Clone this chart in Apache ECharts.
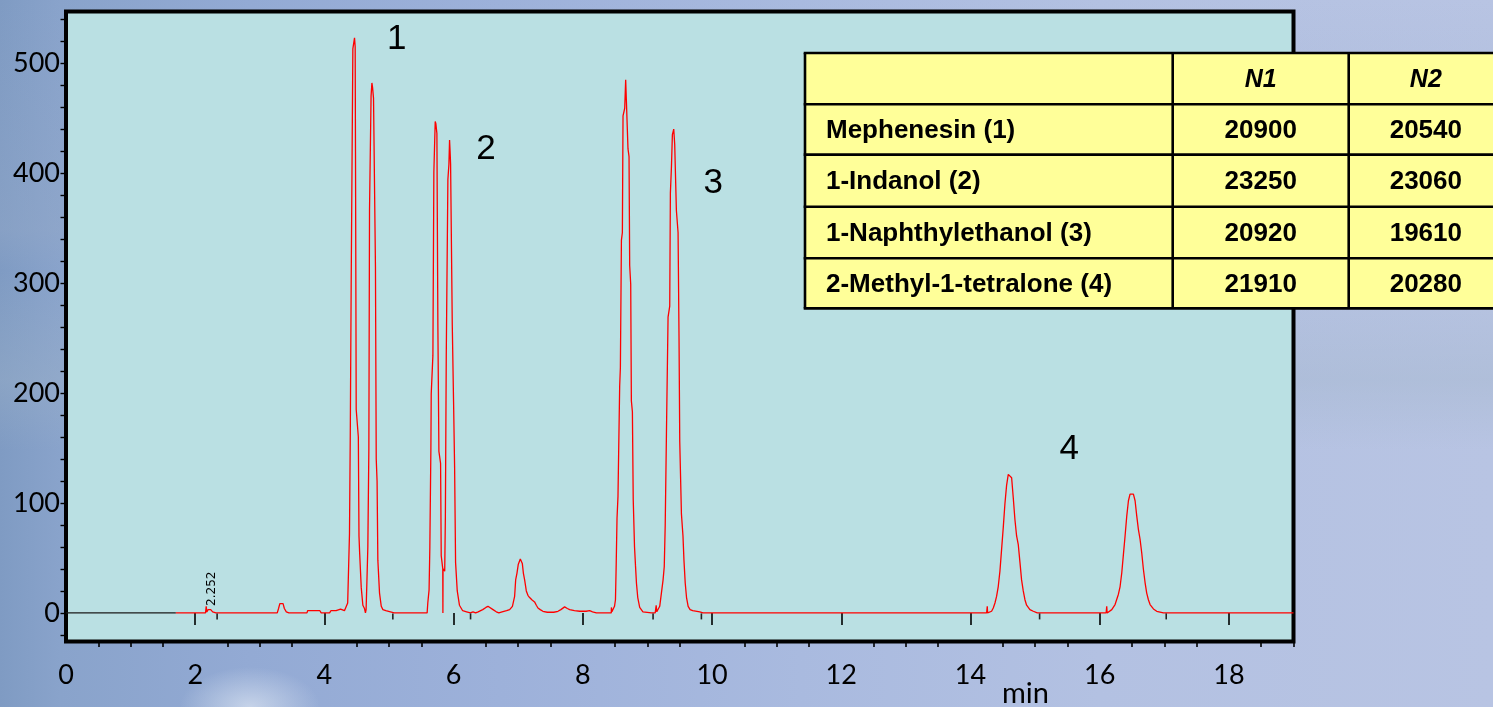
<!DOCTYPE html>
<html>
<head>
<meta charset="utf-8">
<script src="https://cdn.jsdelivr.net/npm/echarts@6/dist/echarts.min.js"></script>
<style>
html,body{margin:0;padding:0;width:1493px;height:707px;overflow:hidden;}
body{
  background:
    radial-gradient(ellipse 70px 40px at 250px 707px, rgba(215,225,240,0.75), rgba(215,225,240,0) 100%),
    linear-gradient(to bottom, rgba(120,150,190,0.0) 0px, rgba(150,170,200,0.35) 230px, rgba(120,150,190,0.0) 270px, rgba(160,180,200,0.35) 380px, rgba(120,150,200,0.0) 450px),
    linear-gradient(to right, #7F9BC3 0px, #89A3CB 60px, #93AAD4 250px, #9DB1DA 500px, #A9BADF 800px, #B3C1E2 1100px, #B8C4E3 1493px);
}
#chart{width:1493px;height:707px;}
</style>
</head>
<body>
<div id="chart"></div>
<script>
// ---------------- data ----------------
// detector trace before the red recording starts (min, mAU)
const preRun = [[0, 0], [1.70, 0]];

// early baseline with small bumps
const earlyTrace = [
  [1.70,0],[2.16,0],[2.17,6],[2.18,1],[2.20,3],[2.24,3],[2.27,1],[2.32,0],
  [3.04,0],[3.06,1.5],[3.09,0],[3.27,0],[3.29,4],[3.31,8.5],[3.36,8.5],[3.38,4],[3.41,1],[3.45,0],
  [3.73,0],[3.74,2],[3.93,2],[3.95,0],[4.08,0],[4.10,2],[4.18,2],[4.20,3.5],[4.25,3.5],[4.27,2],[4.31,2]
];

// peak pair 1 (Mephenesin)
const group1 = [
  [4.33,2],[4.34,3],[4.36,9],[4.388,72],[4.40,160],[4.414,297],[4.44,513],[4.466,523],[4.476,515],
  [4.481,419],[4.492,185],[4.525,160],[4.535,70],[4.545,55],[4.57,23],[4.595,7],[4.62,4],[4.635,0],
  [4.645,3],[4.657,27],[4.672,60],[4.688,150],[4.698,366],[4.722,470],[4.735,482],[4.745,478],[4.760,468],
  [4.775,391],[4.790,314],[4.802,140],[4.815,120],[4.827,48],[4.853,18],[4.88,6],[4.905,3],[4.95,2],[5.08,0]
];

// peak pair 2 (1-Indanol)
const group2 = [
  [5.59,0],[5.60,9],[5.62,21],[5.632,60],[5.648,150],[5.653,199],[5.679,234],[5.694,401],[5.715,447],
  [5.725,445],[5.741,436],[5.756,262],[5.772,147],[5.798,136],[5.808,52],[5.832,40],[5.834,0],[5.836,40],
  [5.862,38],[5.872,87],[5.886,234],[5.911,394],[5.927,408],[5.937,430],[5.945,420],[5.953,408],[5.979,262],
  [5.999,192],[6.015,133],[6.03,46],[6.056,20],[6.09,7],[6.14,2],[6.2,1],[6.26,0]
];

// small peaks between pair 2 and pair 3
const midTrace = [
  [6.30,1],[6.34,0],[6.38,1],[6.45,3],[6.50,5],[6.531,6],[6.56,5],[6.61,3],[6.66,1],[6.70,0],[6.75,1],
  [6.82,2],[6.867,3],[6.91,6],[6.944,15],[6.96,30],[6.98,36],[7.00,44],[7.032,49],[7.045,48],[7.063,45],
  [7.08,36],[7.099,30],[7.125,20],[7.15,16],[7.176,14],[7.21,12],[7.253,10],[7.28,7],[7.305,4.5],[7.34,3],
  [7.382,1.5],[7.45,0.6],[7.55,0.6],[7.615,1.5],[7.66,3],[7.718,5.5],[7.76,4],[7.796,3],[7.87,2],[7.951,1.5],
  [8.05,1.5],[8.106,2],[8.15,1],[8.209,0],[8.44,0]
];

// peak pair 3 (1-Naphthylethanol)
const group3 = [
  [8.442,5],[8.45,1],[8.49,6],[8.505,12],[8.515,40],[8.529,86],[8.544,106],[8.57,206],[8.581,223],
  [8.597,339],[8.612,346],[8.622,452],[8.648,459],[8.663,485],[8.684,484],[8.699,422],[8.715,415],
  [8.725,316],[8.741,299],[8.751,193],[8.767,183],[8.78,103],[8.80,60],[8.815,43],[8.83,27],[8.85,14],
  [8.88,5],[8.93,1],[9.06,0],[9.12,0],[9.135,7],[9.145,1],[9.165,2],[9.19,6],[9.216,18],[9.242,30],
  [9.26,42],[9.275,80],[9.294,163],[9.319,269],[9.345,279],[9.355,382],[9.371,405],[9.386,435],[9.407,440],
  [9.422,426],[9.448,366],[9.474,346],[9.489,249],[9.50,156],[9.526,90],[9.55,70],[9.565,48],[9.585,27],
  [9.605,14],[9.63,6],[9.66,3],[9.70,2],[9.81,1],[9.86,0]
];

// peak pair 4 (2-Methyl-1-tetralone)
const group4 = [
  [14.25,0],[14.26,6],[14.265,0],[14.275,0.6],[14.327,1.5],[14.353,4.5],[14.379,9],[14.404,15],[14.43,24],
  [14.456,38],[14.482,58],[14.508,78],[14.533,99],[14.559,116],[14.585,126],[14.611,127],[14.637,123],
  [14.662,105],[14.688,85],[14.714,70],[14.74,62],[14.766,46],[14.791,30],[14.817,20],[14.843,12],
  [14.869,7],[14.92,3],[14.972,1.5],[15.034,0],
  [16.10,0],[16.109,6],[16.115,0],[16.135,0.6],[16.187,3],[16.238,7.6],[16.29,17],[16.316,24],[16.342,36.5],
  [16.367,53],[16.393,70],[16.419,88],[16.445,102],[16.47,108],[16.496,109.5],[16.522,108],[16.548,102],
  [16.574,88],[16.599,76],[16.625,67],[16.651,54.5],[16.677,39.5],[16.703,27.4],[16.728,18],[16.754,12],
  [16.78,7.6],[16.832,3.6],[16.883,1.5],[16.986,0],[19,0]
];

// integration baseline marks (min)
const integrationMarks = [2.339, 5.059, 6.262, 9.087, 9.835, 15.07, 17.03];

// retention time annotation
const rtLabels = [[2.252, 0, '2.252']];

// peak group numbers (min, mAU, text)
const peakNumbers = [[5.12, 522, '1'], [6.50, 422, '2'], [10.02, 391, '3'], [15.53, 149, '4']];

// tick labels
const xMajorTicks = [0, 2, 4, 6, 8, 10, 12, 14, 16, 18];
const xMinorTicks = [];
for (let i = 1; i <= 38; i++) { if (i % 4 !== 0) xMinorTicks.push(i * 0.5); }
const yLabelValues = [0, 100, 200, 300, 400, 500];
const yTickValues = [];
for (let v = -20; v <= 540; v += 20) yTickValues.push(v);

// table
const tableHeader = ['', 'N1', 'N2'];
const tableNames = ['Mephenesin (1)', '1-Indanol (2)', '1-Naphthylethanol (3)', '2-Methyl-1-tetralone (4)'];
const tableN1 = [20900, 23250, 20920, 21910];
const tableN2 = [20540, 23060, 19610, 20280];

// ---------------- chart ----------------
const trace = [].concat(earlyTrace, group1, group2, midTrace, group3, group4);

const labelFont = 'Lato, "Open Sans", sans-serif';

// table graphics
const colX = [805, 1172.7, 1348.7, 1503];
const rowY = [53, 104.3, 154.6, 206.7, 258.3, 308.4];
const tableEls = [];
tableEls.push({type:'rect', shape:{x:colX[0], y:rowY[0], width:colX[3]-colX[0], height:rowY[5]-rowY[0]},
  style:{fill:'#FFFF99', stroke:'none'}, z:100});
for (let r = 0; r < rowY.length; r++) {
  tableEls.push({type:'line', shape:{x1:colX[0]-1.3, y1:rowY[r], x2:colX[3], y2:rowY[r]},
    style:{stroke:'#000', lineWidth:2.6}, z:101});
}
for (let c = 0; c < colX.length; c++) {
  tableEls.push({type:'line', shape:{x1:colX[c], y1:rowY[0], x2:colX[c], y2:rowY[5]},
    style:{stroke:'#000', lineWidth:2.6}, z:101});
}
const boldFont = 'bold 26px "Liberation Sans", Arial, sans-serif';
const boldItFont = 'italic bold 25px "Liberation Sans", Arial, sans-serif';
for (let c = 1; c < 3; c++) {
  tableEls.push({type:'text', x:(colX[c]+colX[c+1])/2, y:(rowY[0]+rowY[1])/2 + 1.5, z:102,
    style:{text:tableHeader[c], font:boldItFont, fill:'#000', align:'center', verticalAlign:'middle'}});
}
for (let r = 0; r < tableNames.length; r++) {
  const cy = (rowY[r+1]+rowY[r+2])/2 + 1.5;
  tableEls.push({type:'text', x:826, y:cy, z:102,
    style:{text:tableNames[r], font:boldFont, fill:'#000', align:'left', verticalAlign:'middle'}});
  tableEls.push({type:'text', x:(colX[1]+colX[2])/2, y:cy, z:102,
    style:{text:String(tableN1[r]), font:boldFont, fill:'#000', align:'center', verticalAlign:'middle'}});
  tableEls.push({type:'text', x:(colX[2]+colX[3])/2, y:cy, z:102,
    style:{text:String(tableN2[r]), font:boldFont, fill:'#000', align:'center', verticalAlign:'middle'}});
}
tableEls.push({type:'text', x:1002, y:694, z:50,
  style:{text:'min', font:'29px Lato, "Open Sans", sans-serif', fill:'#000', align:'left', verticalAlign:'middle'}});

const chart = echarts.init(document.getElementById('chart'), null, {renderer:'canvas'});
chart.setOption({
  backgroundColor: 'transparent',
  animation: false,
  grid: {left:66, top:11.5, width:1227.5, height:630, show:true, backgroundColor:'#BAE0E3',
    borderColor:'#000', borderWidth:4, containLabel:false, outerBoundsMode:'none'},
  xAxis: [{
    type:'value', min:0, max:19, position:'bottom',
    axisLine:{show:false}, splitLine:{show:false},
    axisTick:{show:true, customValues:xMajorTicks, length:12, lineStyle:{color:'#000', width:1.6}},
    axisLabel:{show:true, customValues:xMajorTicks, margin:20, fontFamily:labelFont, fontSize:27, color:'#000'}
  },{
    type:'value', min:0, max:19, position:'bottom',
    axisLine:{show:false}, splitLine:{show:false},
    axisTick:{show:true, customValues:xMinorTicks, length:5.5, lineStyle:{color:'#000', width:1.6}},
    axisLabel:{show:false}
  }],
  yAxis: [{
    type:'value', min:-26, max:547, position:'left',
    axisLine:{show:false}, splitLine:{show:false},
    axisTick:{show:true, customValues:yTickValues, length:5.5, lineStyle:{color:'#000', width:1.4}},
    axisLabel:{show:true, customValues:yLabelValues, margin:6, fontFamily:labelFont, fontSize:27, color:'#000',
      verticalAlign:'middle', padding:[17,0,0,0]}
  }],
  series: [
    {type:'line', data:preRun, symbol:'none', lineStyle:{color:'#1a1a1a', width:1.3}, z:3, silent:true},
    {type:'line', data:trace, symbol:'none', lineStyle:{color:'#FF0000', width:1.3}, z:4, silent:true},
    {type:'scatter', data:integrationMarks.map(t => [t, 0]), symbol:'rect', symbolSize:[1.6, 6],
      symbolOffset:[0, 3.5], itemStyle:{color:'#222', opacity:1}, z:5, silent:true},
    {type:'scatter', data:rtLabels, symbolSize:0, z:6, silent:true, itemStyle:{opacity:1},
      label:{show:true, formatter:p => p.data[2], position:'top', distance:7, rotate:90,
        align:'left', verticalAlign:'middle', fontFamily:'"DejaVu Sans", sans-serif', fontSize:12, color:'#000'}},
    {type:'scatter', data:peakNumbers, symbolSize:0, z:6, silent:true, itemStyle:{opacity:1},
      label:{show:true, formatter:p => p.data[2], position:'inside',
        fontFamily:'"Liberation Sans", Arial, sans-serif', fontSize:35, color:'#000'}}
  ],
  graphic: {elements: tableEls}
});
</script>
</body>
</html>
